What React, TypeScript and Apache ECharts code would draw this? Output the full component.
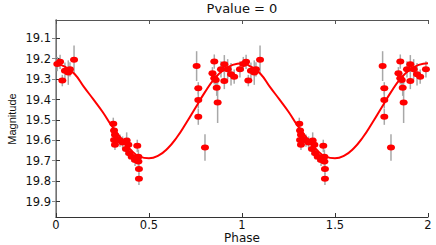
import React, { useEffect, useRef } from "react";
import * as echarts from "echarts";

// Folded light-curve measurements: [phase, magnitude, error]
const clusterA: number[][] = [
  [0.007, 19.226, 0.035],
  [0.022, 19.215, 0.035],
  [0.034, 19.307, 0.028],
  [0.048, 19.259, 0.04],
  [0.066, 19.268, 0.06],
  [0.075, 19.252, 0.035],
  [0.097, 19.205, 0.07],
];
const clusterB: number[][] = [
  [0.308, 19.519, 0.03],
  [0.312, 19.552, 0.025],
  [0.317, 19.573, 0.025],
  [0.312, 19.598, 0.025],
  [0.33, 19.594, 0.03],
  [0.344, 19.601, 0.03],
  [0.317, 19.622, 0.025],
  [0.358, 19.611, 0.03],
  [0.38, 19.601, 0.04],
  [0.389, 19.622, 0.035],
  [0.376, 19.643, 0.03],
  [0.394, 19.663, 0.03],
  [0.407, 19.68, 0.025],
  [0.437, 19.627, 0.03],
  [0.443, 19.68, 0.035],
  [0.425, 19.696, 0.03],
  [0.443, 19.704, 0.03],
  [0.446, 19.741, 0.025],
  [0.446, 19.789, 0.03],
];
const clusterC: number[][] = [
  [0.756, 19.236, 0.073],
  [0.765, 19.345, 0.03],
  [0.765, 19.402, 0.04],
  [0.765, 19.484, 0.04],
  [0.801, 19.635, 0.065],
  [0.841, 19.271, 0.03],
  [0.851, 19.214, 0.035],
  [0.859, 19.304, 0.035],
  [0.851, 19.296, 0.03],
  [0.864, 19.342, 0.04],
  [0.869, 19.415, 0.1],
  [0.887, 19.252, 0.04],
  [0.905, 19.227, 0.045],
  [0.905, 19.309, 0.04],
  [0.923, 19.252, 0.05],
  [0.941, 19.276, 0.055],
  [0.958, 19.288, 0.035],
  [0.989, 19.252, 0.04],
];

// Model curve over one period
const curvePhase = [0, 0.05, 0.1, 0.15, 0.2, 0.25, 0.3, 0.35, 0.4, 0.45, 0.5, 0.55, 0.6, 0.65, 0.7, 0.75, 0.8, 0.85, 0.9, 0.95, 1.0];
const curveMag = [19.225, 19.24, 19.275, 19.338, 19.398, 19.46, 19.53, 19.59, 19.645, 19.68, 19.688, 19.675, 19.64, 19.585, 19.515, 19.44, 19.365, 19.3, 19.255, 19.23, 19.222];

const xTicks = [0, 0.5, 1, 1.5, 2];
const yTicks = [19.1, 19.2, 19.3, 19.4, 19.5, 19.6, 19.7, 19.8, 19.9];

const TITLE = "Pvalue = 0";
const XNAME = "Phase";
const YNAME = "Magnitude";

export default function App() {
  const ref = useRef<HTMLDivElement>(null);
  useEffect(() => {
    document.body.style.margin = "0";
    const chart = echarts.init(ref.current!, null, { renderer: "svg" });
    const base = [...clusterA, ...clusterB, ...clusterC];
    const pts: number[][] = [];
    base.forEach((d) => {
      pts.push([d[0], d[1], d[2]]);
      pts.push([d[0] + 1, d[1], d[2]]);
    });
    const curve: number[][] = [];
    curvePhase.forEach((p, i) => curve.push([p, curveMag[i]]));
    curvePhase.forEach((p, i) => {
      if (i > 0) curve.push([p + 1, curveMag[i]]);
    });
    const font = "DejaVu Sans";
    const ellipse = "path://M0,5A5,5,0,1,0,10,5A5,5,0,1,0,0,5Z";
    const axisCommonX = {
      type: "value" as const,
      min: 0,
      max: 2,
      interval: 0.5,
      splitLine: { show: false },
    };
    const axisCommonY = {
      type: "value" as const,
      inverse: true,
      min: 19.01,
      max: 19.976,
      splitLine: { show: false },
    };
    chart.setOption({
      animation: false,
      grid: { left: 56, right: 8, top: 20, bottom: 28, containLabel: false, outerBoundsMode: "none" },
      graphic: [
        { type: "text", x: 242, y: 8.5, style: { text: TITLE, font: `13px ${font}`, fill: "#111", textAlign: "center", textVerticalAlign: "middle" } },
        { type: "text", x: 242, y: 237.5, style: { text: XNAME, font: `12px ${font}`, lineHeight: 13, fill: "#111", textAlign: "center", textVerticalAlign: "middle" } },
        { type: "text", x: 11.5, y: 119, rotation: Math.PI / 2, style: { text: YNAME, font: `11px "Liberation Sans"`, fill: "#111", textAlign: "center", textVerticalAlign: "middle" } },
      ],
      xAxis: [
        {
          ...axisCommonX,
          position: "bottom",
          axisLine: { show: true, lineStyle: { color: "#333", width: 1 } },
          axisTick: { show: true, inside: true, length: 4, lineStyle: { color: "#333" }, customValues: xTicks },
          axisLabel: { show: true, margin: 2.5, color: "#111", fontSize: 11.5, fontFamily: font, lineHeight: 11, customValues: xTicks, formatter: (v: number) => String(v) },
        },
        {
          ...axisCommonX,
          position: "top",
          axisLine: { show: true, lineStyle: { color: "#555", width: 1 } },
          axisTick: { show: true, inside: true, length: 4, lineStyle: { color: "#555" }, customValues: xTicks },
          axisLabel: { show: false },
        },
      ],
      yAxis: [
        {
          ...axisCommonY,
          position: "left",
          axisLine: { show: true, lineStyle: { color: "#333", width: 1 } },
          axisTick: { show: true, inside: true, length: 4, lineStyle: { color: "#333" }, customValues: yTicks },
          axisLabel: { show: true, margin: 5, color: "#111", fontSize: 11.5, fontFamily: font, customValues: yTicks, formatter: (v: number) => v.toFixed(1) },
        },
        {
          ...axisCommonY,
          position: "right",
          axisLine: { show: true, lineStyle: { color: "#888", width: 1.5 } },
          axisTick: { show: true, inside: true, length: 4, lineStyle: { color: "#888" }, customValues: yTicks },
          axisLabel: { show: false },
        },
      ],
      series: [
        {
          type: "custom",
          xAxisIndex: 0,
          yAxisIndex: 0,
          z: 1,
          data: pts,
          encode: { x: 0, y: 1 },
          renderItem: (params: any, api: any) => {
            const x = api.value(0);
            const y = api.value(1);
            const e = api.value(2);
            const a = api.coord([x, y - e]);
            const b = api.coord([x, y + e]);
            return {
              type: "line",
              shape: { x1: a[0], y1: a[1], x2: b[0], y2: b[1] },
              style: { stroke: "#a8a8a8", lineWidth: 1.5 },
            };
          },
        },
        {
          type: "line",
          xAxisIndex: 0,
          yAxisIndex: 0,
          z: 2,
          data: curve,
          smooth: true,
          showSymbol: false,
          symbol: "none",
          lineStyle: { color: "#ff0000", width: 2 },
        },
        {
          type: "scatter",
          xAxisIndex: 0,
          yAxisIndex: 0,
          z: 3,
          data: pts.map((d) => [d[0], d[1]]),
          symbol: ellipse,
          symbolKeepAspect: false,
          symbolSize: [8, 6],
          itemStyle: { color: "#ff0000", opacity: 1 },
          clip: false,
        },
      ],
    });
    return () => chart.dispose();
  }, []);
  return <div ref={ref} style={{ width: 436, height: 245 }} />;
}
